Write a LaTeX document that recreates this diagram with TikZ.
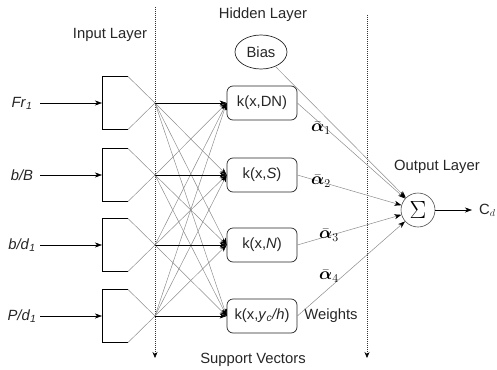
\documentclass[tikz,border=0pt]{standalone}
\usepackage{amsmath}
\usepackage{fontspec}
\setmainfont{Liberation Sans}
\usetikzlibrary{arrows.meta,shapes.geometric}
\begin{document}
\begin{tikzpicture}[x=1pt,y=-1pt,
  txt/.style={font=\fontsize{14.8}{16}\selectfont, text=black!85, inner sep=0pt},
  inlab/.style={txt, minimum width=36pt, align=center},
  kbox/.style={draw=black!85, line width=0.7pt, rounded corners=6pt, minimum width=70pt, minimum height=34pt, inner sep=0pt, font=\fontsize{14.8}{16}\selectfont, text=black!85},
  gline/.style={draw=black!45, line width=0.5pt},
  garrow/.style={gline, -{Stealth[length=7pt,width=5pt,inset=2pt,black]}},
  barrow/.style={draw=black, line width=0.6pt, -{Stealth[length=7pt,width=5pt,inset=2pt,black]}},
  vdash/.style={draw=black!80, line width=0.6pt, dash pattern=on 1pt off 1pt, -{Stealth[length=6pt,width=5pt,inset=2pt,black]}},
  boxline/.style={draw=black, line width=0.7pt},
  alab/.style={font=\fontsize{17}{18}\selectfont, inner sep=0pt}
]
\useasboundingbox (0,0) rectangle (497,369);

% headings
\node[txt] (hin) at (110,35) {Input Layer};
\node[txt] (hhid) at (263,15) {Hidden Layer};
\node[txt] (hout) at (437,167) {Output Layer};
\node[txt] (hsv) at (253,360) {Support Vectors};
\node[txt] (hw) at (331,316) {Weights};

% dashed separators
\coordinate (d1t) at (155,7);
\coordinate (d1b) at (155,358);
\coordinate (d2t) at (367,15);
\coordinate (d2b) at (367,358);
\draw[vdash] (d1t) -- (d1b);
\draw[vdash] (d2t) -- (d2b);

% input labels
\node[inlab] (l1) at (22,103) {\textit{Fr}$_{\mathit 1}$};
\node[inlab] (l2) at (22,175) {\textit{b/B}};
\node[inlab] (l3) at (22,245) {\textit{b/d}$_{\mathit 1}$};
\node[inlab] (l4) at (22,316) {\textit{P/d}$_{\mathit 1}$};

% input boxes
\foreach \i/\c in {1/103, 2/175, 3/245, 4/316} {
  \coordinate (bw\i) at (102,\c);
  \coordinate (in\i) at (155,\c);
  \draw[boxline] (128,\c-26.5) -- (102,\c-26.5) -- (102,\c+26.5) -- (128,\c+26.5);
  \draw[gline] (128,\c-26.5) -- (155,\c) -- (128,\c+26.5);
}
\draw[barrow] (l1.east) -- (bw1);
\draw[barrow] (l2.east) -- (bw2);
\draw[barrow] (l3.east) -- (bw3);
\draw[barrow] (l4.east) -- (bw4);

% hidden nodes
\node[draw=black!85, line width=0.7pt, ellipse, minimum width=52pt, minimum height=34pt, inner sep=0pt, font=\fontsize{14.8}{16}\selectfont, text=black!85] (bias) at (261,52) {Bias};
\node[kbox] (k1) at (262,103) {k(x,DN)};
\node[kbox] (k2) at (262,175) {k(x,\textit{S})};
\node[kbox] (k3) at (262,245) {k(x,\textit{N})};
\node[kbox] (k4) at (262,316) {k(x,\textit{y}$_{\mathit c}$\textit{/h})};

% input -> hidden (cross connections grey)
\foreach \i/\j in {1/2,1/3,1/4,2/1,2/3,2/4,3/1,3/2,3/4,4/1,4/2,4/3} {
  \draw[garrow] (in\i) -- (k\j.west);
}
\draw[barrow] (in1) -- (k1.west);
\draw[barrow] (in2) -- (k2.west);
\draw[barrow] (in3) -- (k3.west);
\draw[barrow] (in4) -- (k4.west);

% output
\node[draw=black!70, line width=0.6pt, circle, minimum size=34pt, inner sep=0pt, font=\fontsize{34}{34}\selectfont] (sig) at (418,210) {$\Sigma$};
\node[txt, anchor=west] (cd) at (479,210) {C$_d$};
\draw[barrow, shorten >=7pt] (sig) -- (cd.west);

\draw[garrow] (bias) -- (sig);
\draw[garrow] (k1.east) -- (sig);
\draw[garrow] (k2.east) -- (sig);
\draw[garrow] (k3.east) -- (sig);
\draw[garrow] (k4.east) -- (sig);

% weights
\node[alab] (a1) at (321,128) {$\bar{\boldsymbol{\alpha}}_1$};
\node[alab] (a2) at (321,181) {$\bar{\boldsymbol{\alpha}}_2$};
\node[alab] (a3) at (329,235) {$\bar{\boldsymbol{\alpha}}_3$};
\node[alab] (a4) at (329,276) {$\bar{\boldsymbol{\alpha}}_4$};
\end{tikzpicture}
\end{document}
